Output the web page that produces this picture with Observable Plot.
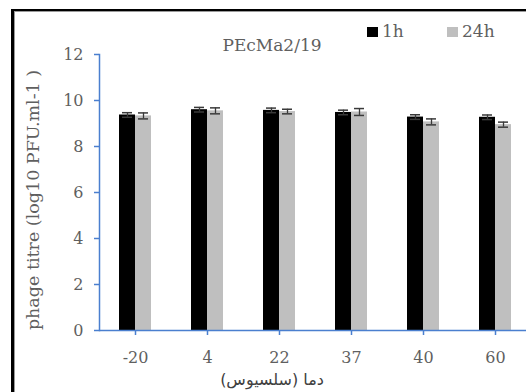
<!DOCTYPE html>
<html>
<head>
<meta charset="utf-8">
<script src="https://cdn.jsdelivr.net/npm/d3@7"></script>
<script src="https://cdn.jsdelivr.net/npm/@observablehq/plot@0.6"></script>
<style>
  html, body { margin: 0; padding: 0; background: #fff; overflow: hidden; }
  #wrap { position: relative; width: 526px; height: 392px; overflow: hidden; }
  #chart { position: absolute; left: 0; top: 0; }
  .frame { position: absolute; left: 11px; top: 9px; width: 700px; height: 600px;
           border-left: 3px solid #000; border-top: 2px solid #000;
           box-shadow: inset 1px 1px 0 #9a9a9a; pointer-events: none; }
  .txt { position: absolute; font-family: "DejaVu Serif", serif; color: #5f5f5f; white-space: nowrap; }
  .sw { position: absolute; width: 11px; height: 10px; }
</style>
</head>
<body>
<div id="wrap">
  <div id="chart"></div>
  <div class="frame"></div>
</div>
<script>
// Phage PEcMa2/19 titre after 1 h and 24 h at each temperature
const temps = ["-20", "4", "22", "37", "40", "60"];
const series = ["1h", "24h"];
const titre1h = [9.37, 9.60, 9.57, 9.48, 9.28, 9.27];
const err1h = [0.10, 0.10, 0.10, 0.10, 0.10, 0.10];
const titre24h = [9.33, 9.55, 9.52, 9.50, 9.07, 8.95];
const err24h = [0.13, 0.13, 0.10, 0.15, 0.13, 0.11];
const yTicks = [0, 2, 4, 6, 8, 10, 12];
const titleText = "PEcMa2/19";
const yLabel = "phage titre (log10 PFU.ml-1 )";
const xLabel = "دما (سلسیوس)";

const colors = { "1h": "#000000", "24h": "#bfbfbf" };
const axisBlue = "#4a7fcf";
const textGray = "#5f5f5f";

const rows = [];
temps.forEach((t, i) => {
  rows.push({ temp: t, series: "1h", value: titre1h[i], err: err1h[i] });
  rows.push({ temp: t, series: "24h", value: titre24h[i], err: err24h[i] });
});

const chart = Plot.plot({
  width: 526,
  height: 392,
  marginLeft: 97,
  marginRight: -7,
  marginTop: 54,
  marginBottom: 62,
  style: { fontFamily: "DejaVu Serif, serif", fontSize: "16px", color: textGray, overflow: "visible", background: "transparent" },
  fx: { domain: temps, padding: 0, label: null },
  x: { domain: series, paddingInner: 0, paddingOuter: 1.137, axis: null },
  y: { domain: [0, 12], label: null },
  color: { domain: series, range: series.map(s => colors[s]) },
  marks: [
    Plot.barY(rows, { fx: "temp", x: "series", y: "value", fill: "series" }),
    Plot.ruleX(rows, { fx: "temp", x: "series", y1: d => d.value - d.err, y2: d => d.value + d.err, stroke: "#3a3a3a", strokeWidth: 1.3 }),
    Plot.tickY(rows, { fx: "temp", x: "series", y: d => d.value + d.err, stroke: "#3a3a3a", strokeWidth: 1.5, insetLeft: 3, insetRight: 3 }),
    Plot.tickY(rows, { fx: "temp", x: "series", y: d => d.value - d.err, stroke: "#3a3a3a", strokeWidth: 1.5, insetLeft: 3, insetRight: 3 }),
    Plot.ruleY([0], { stroke: axisBlue, strokeWidth: 1.5 }),
    Plot.frame({ anchor: "left", stroke: axisBlue, strokeWidth: 1.5, facetAnchor: "left" }),
    Plot.axisY({ ticks: yTicks, tickSize: 5, tickPadding: 11, stroke: axisBlue, fill: textGray, strokeWidth: 1.5, label: null }),
    Plot.axisFx({ anchor: "bottom", tickSize: 5, tickPadding: 16, stroke: axisBlue, fill: textGray, strokeWidth: 1.5, label: null })
  ]
});
document.getElementById("chart").appendChild(chart);

const wrap = document.getElementById("wrap");
function addText(text, css) {
  const el = document.createElement("div");
  el.className = "txt";
  el.textContent = text;
  Object.assign(el.style, css);
  wrap.appendChild(el);
  return el;
}

// title
addText(titleText, { left: "272px", top: "35px", fontSize: "17px", transform: "translateX(-50%)" });

// legend
series.forEach((s, i) => {
  const sw = document.createElement("div");
  sw.className = "sw";
  Object.assign(sw.style, { left: (367 + i * 80) + "px", top: "27px", background: colors[s] });
  wrap.appendChild(sw);
  addText(s, { left: (382 + i * 80) + "px", top: "21px", fontSize: "17px" });
});

// y axis title
addText(yLabel, { left: "33px", top: "200px", fontSize: "17.5px", transform: "translate(-50%, -50%) rotate(-90deg)" });

// x axis title
const xl = addText(xLabel, { left: "272px", top: "379px", fontSize: "16px", fontFamily: "DejaVu Sans, sans-serif", color: "#404040", transform: "translate(-50%, -50%)" });
xl.dir = "rtl";
</script>
</body>
</html>
